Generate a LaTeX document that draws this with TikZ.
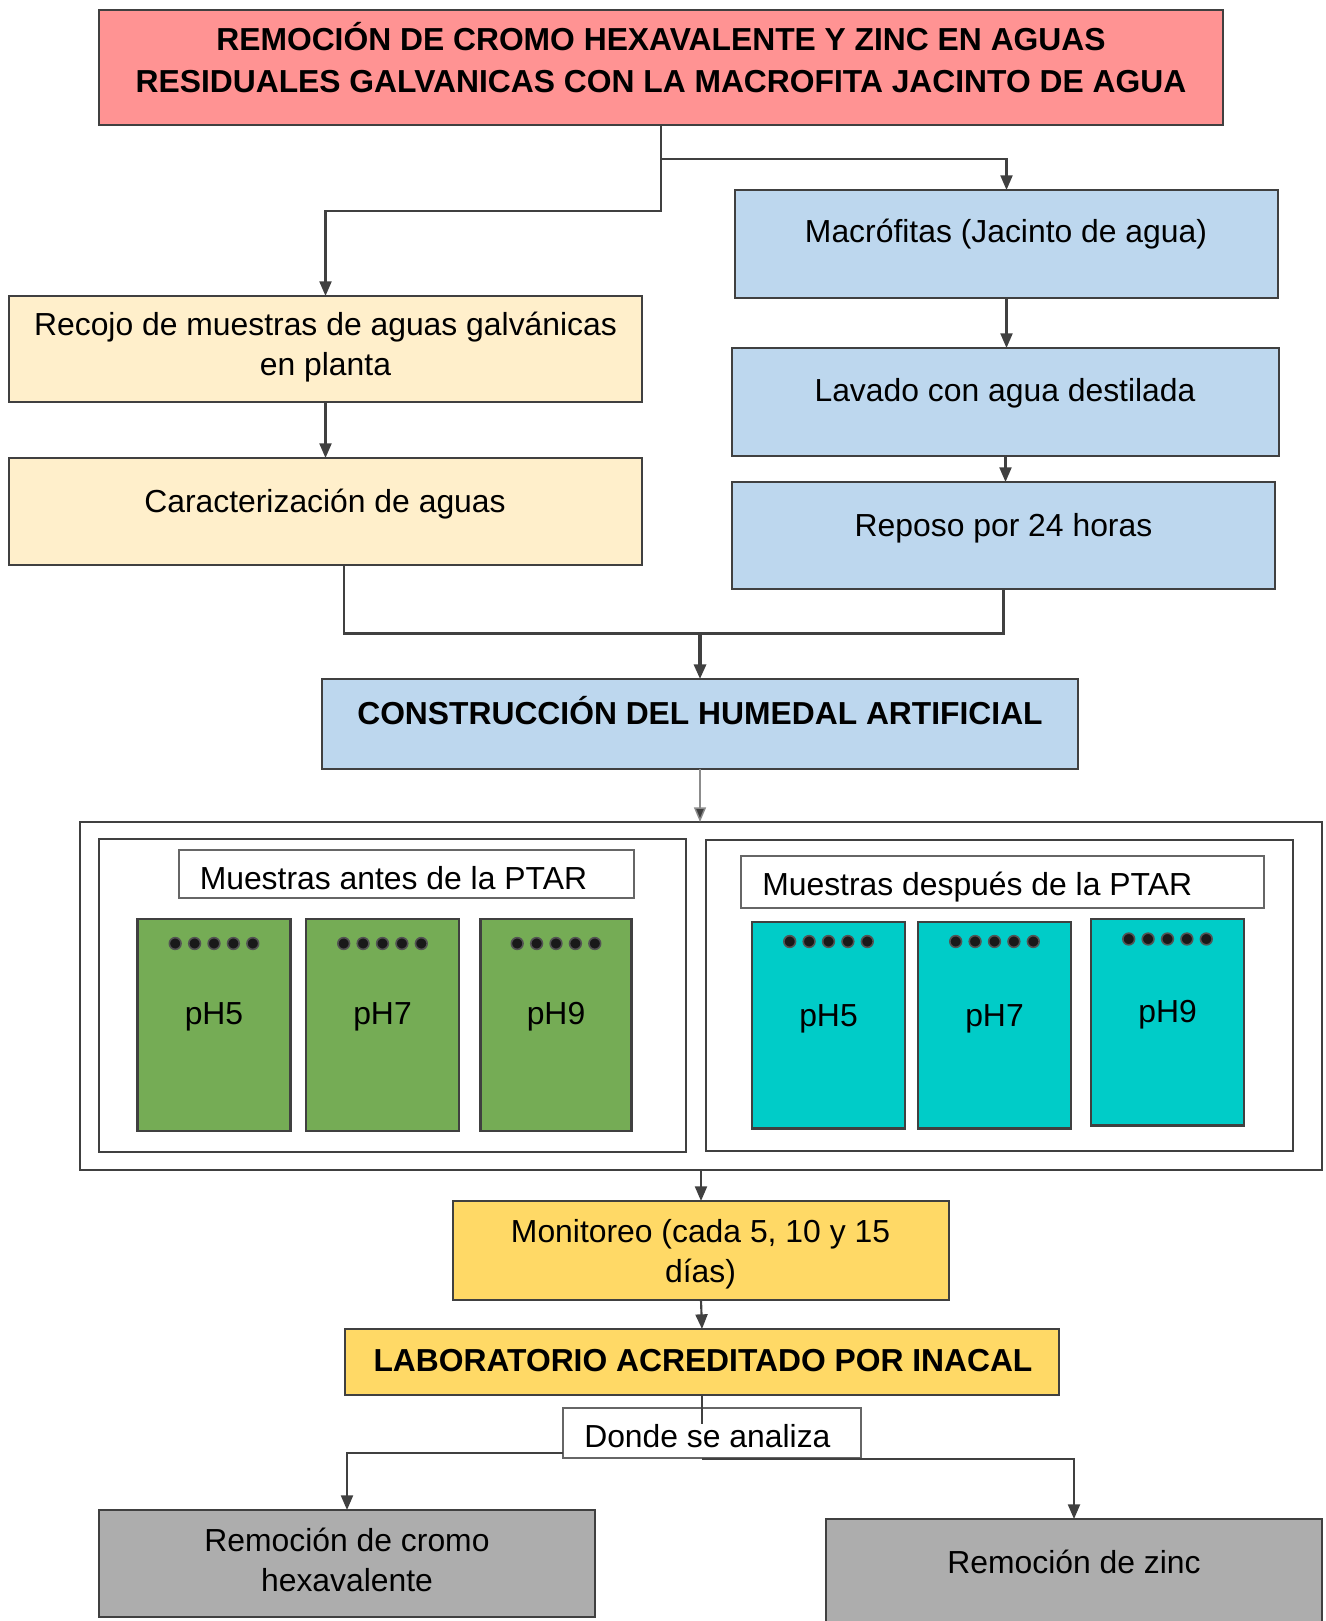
\documentclass[tikz,border=0pt]{standalone}
\usepackage{fontspec}
\setmainfont{Liberation Sans}
\usetikzlibrary{arrows.meta}
\definecolor{salmon}{HTML}{FF9393}
\definecolor{beige}{HTML}{FFEFCB}
\definecolor{lblue}{HTML}{BDD7EE}
\definecolor{lgreen}{HTML}{75AC55}
\definecolor{lteal}{HTML}{00CCC8}
\definecolor{lyellow}{HTML}{FFD966}
\definecolor{lgray}{HTML}{ADADAD}
\definecolor{bord}{HTML}{404040}
\newcommand\mkbox[6]{\node[#6, minimum width={(#4-#2)*0.75pt}, minimum height={(#5-#3)*0.75pt}] (#1) at ({(#2+#4)/2},{(#3+#5)/2}) {};}
\newcommand\txtf{\fontsize{23.9}{29.5}\selectfont}
\newcommand\ttlf{\fontsize{23.85}{31.5}\selectfont\bfseries}
\tikzset{
  boxs/.style={draw=bord, line width=1.9pt, inner sep=0pt, outer sep=0pt, rectangle},
  frame/.style={draw=bord, line width=1.6pt, fill=white, inner sep=0pt, outer sep=0pt, rectangle},
  lbl/.style={draw=bord!80, line width=1.1pt, fill=white, inner sep=0pt, outer sep=0pt, rectangle},
  txt/.style={inner sep=0pt, font=\txtf, align=center, anchor=base},
  ttl/.style={inner sep=0pt, font=\ttlf, align=center, anchor=base},
  conn/.style={draw=bord, line width=1.6pt},
  arr/.style={conn, -{Triangle[length=11pt,width=9pt]}},
  dotc/.style={fill=black!90, draw=bord!90, line width=1.2pt},
}
\begin{document}
\begin{tikzpicture}[x=0.75pt,y=-0.75pt]
\useasboundingbox (0,0) rectangle (1325,1621);
% boxes
\mkbox{top}{99}{10}{1223}{125}{boxs, fill=salmon}
\mkbox{macro}{735}{190}{1278}{298}{boxs, fill=lblue}
\mkbox{lavado}{732}{348}{1279}{456}{boxs, fill=lblue}
\mkbox{reposo}{732}{482}{1275}{589}{boxs, fill=lblue}
\mkbox{recojo}{9}{296}{642}{402}{boxs, fill=beige}
\mkbox{caract}{9}{458}{642}{565}{boxs, fill=beige}
\mkbox{constr}{322}{679}{1078}{769}{boxs, fill=lblue}
\mkbox{outer}{80}{822}{1322}{1170}{frame}
\mkbox{inl}{99}{839}{686}{1152}{frame}
\mkbox{inr}{706}{840}{1293}{1151}{frame}
\mkbox{lbla}{179}{850}{634}{898}{lbl}
\mkbox{lbld}{741}{856}{1264}{908}{lbl}
\mkbox{g1}{137.5}{919}{290.5}{1131}{boxs, fill=lgreen}
\mkbox{g2}{306}{919}{459}{1131}{boxs, fill=lgreen}
\mkbox{g3}{480.5}{919}{631.5}{1131}{boxs, fill=lgreen}
\mkbox{t1}{752}{922}{905}{1128.5}{boxs, fill=lteal}
\mkbox{t2}{918}{922}{1071}{1128.5}{boxs, fill=lteal}
\mkbox{t3}{1091}{919}{1244}{1125.5}{boxs, fill=lteal}
\mkbox{monit}{453}{1201}{949}{1300}{boxs, fill=lyellow}
\mkbox{lab}{345}{1329}{1059}{1395}{boxs, fill=lyellow}
\mkbox{donde}{563}{1408}{861}{1458}{lbl}
\mkbox{cromo}{99}{1510}{595}{1617}{boxs, fill=lgray}
\mkbox{zinc}{826}{1519}{1322}{1680}{boxs, fill=lgray}
% texts
\node[ttl] (ttop) at (661,92) {REMOCIÓN DE CROMO HEXAVALENTE Y ZINC EN AGUAS\\RESIDUALES GALVANICAS CON LA MACROFITA JACINTO DE AGUA};
\node[txt] (tmacro) at (1006,242.5) {Macrófitas (Jacinto de agua)};
\node[txt] (tlavado) at (1005,401) {Lavado con agua destilada};
\node[txt] (treposo) at (1003.5,536) {Reposo por 24 horas};
\node[txt] (trecojo) at (325.5,375) {Recojo de muestras de aguas galvánicas\\en planta};
\node[txt] (tcaract) at (325,512) {Caracterización de aguas};
\node[ttl] (tconstr) at (700,724) {CONSTRUCCIÓN DEL HUMEDAL ARTIFICIAL};
\node[txt, anchor=base west] (tlbla) at (199.5,889.5) {Muestras antes de la PTAR};
\node[txt, anchor=base west] (tlbld) at (762,895) {Muestras después de la PTAR};
\node[txt] (tg1) at (214,1024) {pH5};
\node[txt] (tg2) at (382.5,1024) {pH7};
\node[txt] (tg3) at (556,1024) {pH9};
\node[txt] (tt1) at (828.5,1026) {pH5};
\node[txt] (tt2) at (994.5,1026) {pH7};
\node[txt] (tt3) at (1167.5,1022) {pH9};
\node[txt] (tmonit) at (700.5,1282) {Monitoreo (cada 5, 10 y 15\\días)};
\node[ttl] (tlab) at (703,1371) {LABORATORIO ACREDITADO POR INACAL};
\node[txt, anchor=base west] (tdonde) at (584,1447.5) {Donde se analiza};
\node[txt] (tcromo) at (347,1591) {Remoción de cromo\\hexavalente};
\node[txt] (tzinc) at (1074,1573.5) {Remoción de zinc};
% dots
\foreach \cx/\cy in {214/943.5, 382.5/943.5, 556/943.5, 828.5/941.5, 994.5/941.5, 1167.5/939}{
  \foreach \k in {-2,-1,0,1,2}{
    \draw[dotc] ({\cx+19.4*\k},\cy) circle[radius=4.4pt];
  }
}
% connectors
\draw[conn] (top.south) -- ++(0,34) coordinate (j1);
\draw[arr] (j1) -| (macro.north);
\draw[arr] (j1) -- ++(0,52) -| (recojo.north);
\draw[arr] (macro.south) -- (macro.south |- lavado.north);
\draw[arr] (lavado.south) -- (lavado.south |- reposo.north);
\draw[arr] (recojo.south) -- (caract.north);
\draw[conn] ([xshift=13.9pt]caract.south) -- ++(0,68.5) coordinate (j2) -| (reposo.south);
\draw[arr, line width=2.4pt] (constr.north |- j2) -- (constr.north);
\draw[arr, draw=bord!60, line width=1.1pt, -{Triangle[length=11pt,width=9pt,fill=bord]}] (constr.south) -- (constr.south |- outer.north);
\draw[arr] (outer.south) -- (monit.north);
\draw[arr] (monit.south) -- (lab.north);
\draw[conn] (lab.south) -- ++(0,-0.75) -- ++(0,30);
\draw[arr] ([yshift=-15pt]donde.west) -| (cromo.north);
\draw[arr] ([yshift=-1pt]donde.south -| lab.south) -| (zinc.north);
\end{tikzpicture}
\end{document}
